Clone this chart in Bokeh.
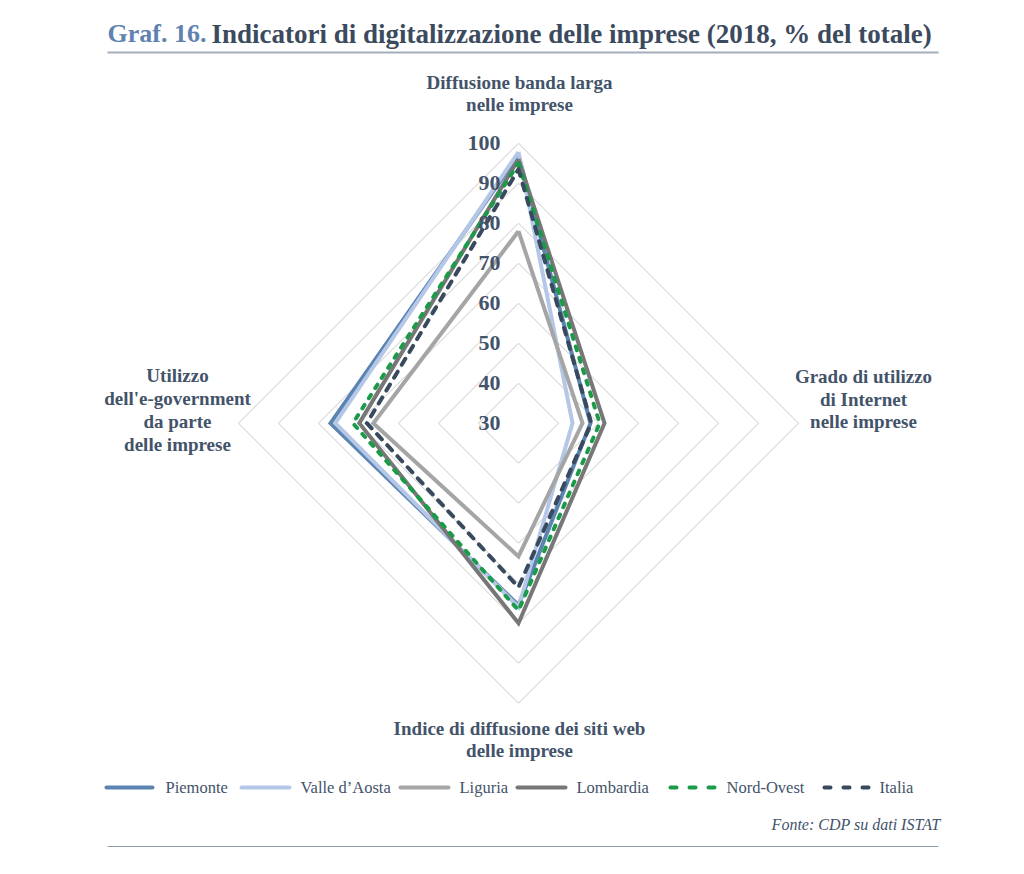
import numpy as np
from bokeh.plotting import figure
from bokeh.models import Range1d
from bokeh.core.properties import value
from bokeh.embed import file_html
from bokeh.resources import INLINE

# ---------------- data ----------------
axis_names = ["Diffusione banda larga nelle imprese",
              "Grado di utilizzo di Internet nelle imprese",
              "Indice di diffusione dei siti web delle imprese",
              "Utilizzo dell'e-government da parte delle imprese"]
series_names = ["Piemonte", "Valle d\u2019Aosta", "Liguria", "Lombardia", "Nord-Ovest", "Italia"]
# order: banda larga (top), Internet (right), siti web (bottom), e-government (left)
piemonte = [97.0, 48.0, 75.5, 77.0]
valle_daosta = [97.8, 43.5, 76.0, 75.8]
liguria = [78.0, 46.0, 63.3, 66.3]
lombardia = [96.0, 51.5, 80.0, 69.8]
nord_ovest = [95.0, 50.3, 76.8, 71.4]
italia = [93.5, 48.2, 71.0, 67.9]
tick_values = [30, 40, 50, 60, 70, 80, 90, 100]
r_min = 30

series_values = [piemonte, valle_daosta, liguria, lombardia, nord_ovest, italia]
series_colors = ["#5b84b1", "#b4c7e7", "#a5a5a5", "#777777", "#1b9a48", "#3a4a5e"]
series_dash = ["solid", "solid", "solid", "solid", "4 8", "7 8"]
series_cap = ["butt", "butt", "butt", "butt", "round", "round"]

# ---------------- layout helpers ----------------
CX, CY, PX_PER_UNIT = 518.0, 422.7, 4.0
W, H = 1008, 858
OFF = 0  # page offset of the plot canvas


def ux(px):
    return (px - CX) / PX_PER_UNIT


def uy(py):
    return (CY - py) / PX_PER_UNIT


p = figure(width=W, height=H, output_backend="svg", toolbar_location=None,
           x_axis_type=None, y_axis_type=None, min_border=0,
           x_range=Range1d(ux(OFF), ux(OFF + W)), y_range=Range1d(uy(OFF + H), uy(OFF)))
p.outline_line_color = None
p.grid.visible = False
p.background_fill_color = "white"
p.border_fill_color = "white"

angles = np.radians([90, 0, -90, 180])


def polar(vals):
    r = np.asarray(vals, dtype=float) - r_min
    xs = list(r * np.cos(angles)) + [r[0] * np.cos(angles[0])]
    ys = list(r * np.sin(angles)) + [r[0] * np.sin(angles[0])]
    return xs, ys


# grid rings
for t in tick_values[1:]:
    xs, ys = polar([t] * 4)
    p.line(xs, ys, line_color="#c9c9c9", line_width=1)

# series
for vals, col, dash, cap in zip(series_values, series_colors, series_dash, series_cap):
    xs, ys = polar(vals)
    p.line(xs, ys, line_color=col, line_width=4, line_dash=dash, line_cap=cap,
           line_join="miter")

TXT = "#43536a"
SERIF = value("Liberation Serif")

# radial tick labels
p.text(x=[0] * len(tick_values), y=[t - r_min for t in tick_values],
       text=[str(t) for t in tick_values], x_offset=-18,
       text_align="right", text_baseline="middle", text_font=SERIF,
       text_font_size="22px", text_font_style="bold", text_color=TXT)

# axis labels
label_lines = [
    (["Diffusione banda larga", "nelle imprese"], 519, [82, 104]),
    (["Grado di utilizzo", "di Internet", "nelle imprese"], 863, [376, 399, 421]),
    (["Indice di diffusione dei siti web", "delle imprese"], 519, [728, 750]),
    (["Utilizzo", "dell'e-government", "da parte", "delle imprese"], 177, [375, 398, 421, 444]),
]
for lines, cx, ys in label_lines:
    p.text(x=[ux(cx)] * len(lines), y=[uy(v) for v in ys], text=lines,
           text_align="center", text_baseline="middle", text_font=SERIF,
           text_font_size="19px", text_font_style="bold", text_color=TXT)

# title
p.text(x=[ux(107)], y=[uy(33)], text=["Graf. 16."], text_align="left",
       text_baseline="middle", text_font=SERIF, text_font_size="26px",
       text_font_style="bold", text_color="#5f82b0")
p.text(x=[ux(211)], y=[uy(33)],
       text=["Indicatori di digitalizzazione delle imprese (2018, % del totale)"],
       text_align="left", text_baseline="middle", text_font=SERIF,
       text_font_size="27px", text_font_style="bold", text_color="#3c4a5e")
p.line([ux(107), ux(938)], [uy(52), uy(52)], line_color="#a3adbb", line_width=2)
p.line([ux(107), ux(938)], [uy(846), uy(846)], line_color="#8e9db2", line_width=1)

# legend
leg_line_x = [(106, 152), (241, 289), (400, 448), (517, 565), (670, 714), (824, 868)]
leg_text_x = [165, 300, 459, 576, 726, 879]
LY = 787
for name, col, dash, cap, (x0, x1), tx in zip(series_names, series_colors, series_dash,
                                              series_cap, leg_line_x, leg_text_x):
    if dash == "solid":
        p.line([ux(x0), ux(x1)], [uy(LY), uy(LY)], line_color=col, line_width=4,
               line_cap="round")
    else:
        p.line([ux(x0), ux(x1)], [uy(LY), uy(LY)], line_color=col, line_width=4,
               line_dash="6 13", line_cap="round")
    p.text(x=[ux(tx)], y=[uy(LY)], text=[name], text_align="left",
           text_baseline="middle", text_font=SERIF, text_font_size="16.5px",
           text_color=TXT)

p.text(x=[ux(940)], y=[uy(824)], text=["Fonte: CDP su dati ISTAT"], text_align="right",
       text_baseline="middle", text_font=SERIF, text_font_size="16px",
       text_font_style="italic", text_color=TXT)

open("out.html", "w").write(file_html(p, INLINE))
